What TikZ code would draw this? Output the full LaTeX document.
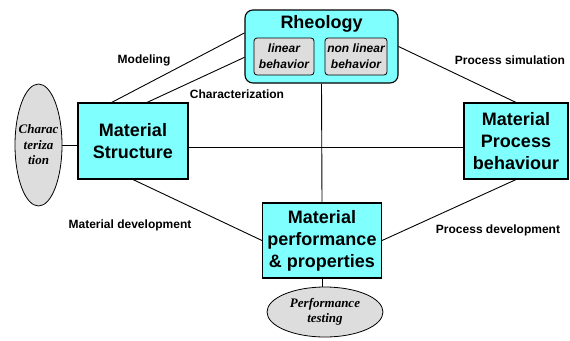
\documentclass[tikz,border=0pt]{standalone}
\usepackage{fontspec}
\setmainfont{Liberation Sans}
\newfontfamily\serifbf{Liberation Serif}
\usetikzlibrary{positioning,calc,shapes.geometric}
\definecolor{boxcyan}{RGB}{128,255,255}
\definecolor{blobgray}{RGB}{221,221,221}

\begin{document}
\begin{tikzpicture}[
				x=1pt,y=-1pt,
				area/.style={draw,line width=1.1pt,fill=boxcyan,align=center,inner sep=0pt,font=\fontsize{18}{22}\selectfont\bfseries},
				behav/.style={draw,line width=0.8pt,fill=blobgray,rounded corners=3pt,minimum height=37pt,inner sep=0pt,align=center,font=\fontsize{12}{16}\selectfont\bfseries\itshape},
				blob/.style={draw,line width=0.8pt,fill=blobgray,ellipse,inner sep=0pt},
				blobtext/.style={align=center,inner sep=0pt,font=\serifbf\fontsize{13}{15.5}\selectfont\bfseries\itshape},
				lbl/.style={inner sep=0pt,font=\fontsize{12}{14}\selectfont\bfseries},
				link/.style={line width=0.9pt}
			]
			\useasboundingbox (0,0) rectangle (570,340);

			% rheology box with its two parts
			\node[area,rounded corners=8pt,minimum width=153pt,minimum height=73pt] (rheo) at (321.5,46.5) {};
			\node[font=\fontsize{18}{22}\selectfont\bfseries,inner sep=0pt] (rheotitle) at (321.5,24) {Rheology};
			\node[behav,minimum width=60pt] (lin) at (284,56.5) {linear\\behavior};
			\node[behav,minimum width=62pt] (nonlin) at (356,56.5) {non linear\\behavior};

			\node[area,minimum width=110pt,minimum height=76pt] (struct) at (133,141) {Material\\Structure};
			\node[area,minimum width=104pt,minimum height=76pt] (proc) at (516,141) {Material\\Process\\behaviour};
			\node[area,minimum width=119pt,minimum height=75pt] (perf) at (322,240.5) {Material\\performance\\\& properties};

			\node[blob,minimum width=47pt,minimum height=122pt] (charac) at (38.5,145) {};
			\node[blobtext] (charactext) at (charac) {Charac\\teriza\\tion};
			\node[blob,minimum width=116pt,minimum height=50pt] (perftest) at (325,312) {};
			\node[blobtext] (perftesttext) at (perftest) {Performance\\testing};

			% links
			\draw[link] (struct.119) -- (rheo.170);
			\draw[link] (struct.70) -- (rheo.-172);
			\draw[link] (rheo.east) -- (proc.north);
			\draw[link] ([yshift=-6pt]struct.east) -- ([yshift=-6pt]proc.west);
			\draw[link] (rheo.south) -- (perf.north);
			\draw[link] (struct.south) -- (perf.west);
			\draw[link] (perf.east) -- (proc.south);
			\draw[link] (charac.east) -- (struct.west |- charac.east);
			\draw[link] (perf.south) -- (perf.south |- perftest.north);

			% link labels
			\node[lbl] (modlbl) at (144,60) {Modeling};
			\node[lbl] (charlbl) at (237,94) {Characterization};
			\node[lbl] (simlbl) at (510,60) {Process simulation};
			\node[lbl] (matdevlbl) at (130,225) {Material development};
			\node[lbl] (procdevlbl) at (498,230) {Process development};
		\end{tikzpicture}
\end{document}
